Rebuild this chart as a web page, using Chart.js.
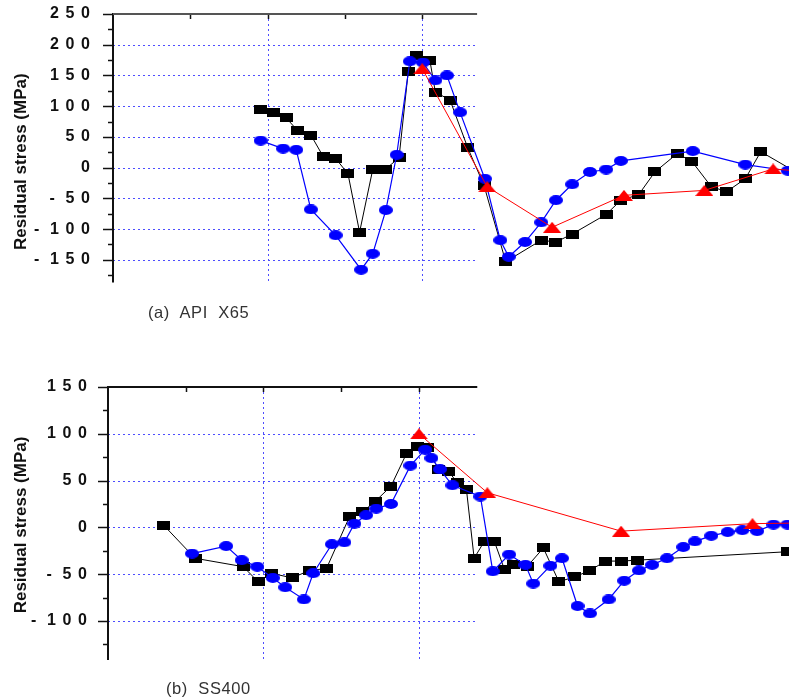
<!DOCTYPE html>
<html>
<head>
<meta charset="utf-8">
<script src="https://cdn.jsdelivr.net/npm/chart.js@4.4.0/dist/chart.umd.min.js"></script>
<style>
  html, body { margin: 0; padding: 0; background: #fff; }
  body { width: 789px; height: 698px; position: relative; overflow: hidden; }
  .panel { position: absolute; left: 0; width: 789px; }
  .caption { position: absolute; font: 16.5px "Liberation Sans", Arial, sans-serif; color: #333; letter-spacing: 0.6px; white-space: pre; line-height: 18px; }
</style>
</head>
<body>
<div class="panel" style="top:-10px;height:332px"><canvas id="chart-x65" width="789" height="332"></canvas></div>
<div class="caption" style="left:148px;top:303px">(a)  API  X65</div>
<div class="panel" style="top:340px;height:358px"><canvas id="chart-ss400" width="789" height="358"></canvas></div>
<div class="caption" style="left:166px;top:679px">(b)  SS400</div>

<script>
// (a) API X65 - distance vs residual stress
const x65SquareX = [19.1, 20.7, 22.4, 23.9, 25.6, 27.2, 28.8, 30.4, 31.9, 33.6, 35.2, 37.0, 38.2, 39.2, 41.0, 41.7, 43.6, 45.9, 48.0, 50.8, 55.4, 57.3, 59.4, 63.8, 65.7, 68.0, 70.1, 73.0, 74.9, 77.4, 79.4, 81.8, 83.8, 89.0];
const x65SquareY = [94, 89, 81, 60, 53, 18, 15, -10, -105, -3, -3, 16, 157, 182, 174, 123, 110, 32, -29, -153, -118, -121, -108, -76, -53, -44, -7, 23, 10, -31, -39, -18, 26, -12];
const x65CircleX = [19.1, 22.0, 23.7, 25.6, 28.8, 32.1, 33.6, 35.3, 36.7, 38.4, 40.1, 41.7, 43.2, 44.9, 48.1, 50.1, 51.2, 53.3, 55.4, 57.3, 59.4, 61.7, 63.8, 65.7, 75.0, 81.8, 87.3];
const x65CircleY = [44, 31, 29, -68, -110, -166, -140, -69, 21, 173, 171, 142, 150, 90, -18, -118, -145, -121, -89, -53, -27, -7, -3, 11, 27, 5, -5];
const x65TriangleX = [40.0, 48.4, 56.8, 66.1, 76.5, 85.4, 90.0];
const x65TriangleY = [161, -31, -97, -45, -37, -2, -7];

// (b) SS400
const ssSquareX = [7.2, 11.2, 17.4, 19.3, 21.0, 23.7, 25.9, 28.1, 31.1, 32.8, 34.4, 36.4, 38.4, 39.8, 41.1, 42.5, 43.8, 44.9, 46.1, 47.1, 48.4, 49.7, 51.0, 52.1, 53.9, 56.0, 58.0, 60.0, 62.0, 64.0, 66.0, 68.1, 87.4];
const ssSquareY = [2, -33, -42, -58, -49, -54, -46, -44, 12, 17, 28, 44, 79, 86, 85, 62, 60, 48, 41, -33, -15, -15, -45, -40, -42, -22, -58, -53, -46, -36, -36, -35, -26];
const ssCircleX = [10.8, 15.2, 17.2, 19.2, 21.2, 22.8, 25.2, 26.4, 28.8, 30.4, 31.7, 33.2, 34.5, 36.4, 38.9, 40.8, 41.6, 42.7, 44.3, 47.9, 49.5, 51.6, 53.7, 54.7, 56.9, 58.4, 60.4, 62.0, 64.4, 66.4, 68.3, 70.0, 71.9, 74.0, 75.5, 77.6, 79.7, 81.6, 83.5, 85.6, 87.4];
const ssCircleY = [-28, -20, -35, -42, -54, -64, -77, -49, -18, -16, 4, 13, 20, 25, 66, 83, 74, 62, 45, 33, -47, -29, -40, -60, -41, -33, -84, -92, -77, -57, -46, -40, -33, -21, -15, -9, -5, -3, -4, 3, 3];
const ssTriangleX = [40.0, 48.8, 66.0, 82.9, 92.0];
const ssTriangleY = [100, 37, -4, 4, 5];

// axis ticks
const x65Ticks = [-150, -100, -50, 0, 50, 100, 150, 200, 250];
const x65Minor = [-175, -125, -75, -25, 25, 75, 125, 175, 225];
const x65Grid = [-150, -100, -50, 0, 50, 100, 150, 200];
const ssTicks = [-100, -50, 0, 50, 100, 150];
const ssMinor = [-125, -75, -25, 25, 75, 125];
const ssGrid = [-100, -50, 0, 50, 100];
const topTicks = [10, 20, 30, 40];
const xGridLines = [20, 40];

function marker(w, h, color, shape) {
  const c = document.createElement('canvas');
  c.width = w;
  c.height = h;
  const g = c.getContext('2d');
  g.fillStyle = color;
  g.beginPath();
  if (shape === 'rect') {
    g.rect(0, 0, w, h);
  } else if (shape === 'ellipse') {
    g.ellipse(w / 2, h / 2, w / 2, h / 2, 0, 0, Math.PI * 2);
  } else {
    g.moveTo(w / 2, 0);
    g.lineTo(w, h);
    g.lineTo(0, h);
    g.closePath();
  }
  g.fill();
  return c;
}

const squareImg = marker(13, 9, '#000000', 'rect');
const circleImg = marker(14, 10, '#0000ff', 'ellipse');
const triangleImg = marker(18, 11, '#ff0000', 'triangle');

function pts(xs, ys) {
  return xs.map((x, i) => ({ x: x, y: ys[i] }));
}

// digits spread out like the original axis labels
function spaced(v) {
  const s = String(Math.abs(v)).split('').join('\u2004\u200a');
  return v < 0 ? '-\u2004\u2004' + s : s;
}

// dotted grid, axis lines and tick marks, limited to the left part of the frame
const framePlugin = {
  id: 'frame',
  beforeDatasetsDraw(chart, args, opts) {
    const ctx = chart.ctx;
    const xs = chart.scales.x;
    const ys = chart.scales.y;
    const left = chart.chartArea.left;
    const top = chart.chartArea.top;
    const right = xs.getPixelForValue(opts.xEnd);
    const bottom = ys.getPixelForValue(opts.yEnd);
    const seg = (x1, y1, x2, y2) => {
      ctx.beginPath();
      ctx.moveTo(x1, y1);
      ctx.lineTo(x2, y2);
      ctx.stroke();
    };
    ctx.save();
    ctx.strokeStyle = '#4d4dff';
    ctx.lineWidth = 1;
    ctx.setLineDash([2, 3]);
    opts.yGrid.forEach(v => {
      const py = Math.round(ys.getPixelForValue(v)) + 0.5;
      seg(left, py, right, py);
    });
    opts.xGrid.forEach(v => {
      const px = Math.round(xs.getPixelForValue(v)) + 0.5;
      seg(px, top, px, bottom);
    });
    ctx.setLineDash([]);
    ctx.strokeStyle = '#111';
    ctx.lineWidth = 1.5;
    opts.yMajor.forEach(v => {
      const py = Math.round(ys.getPixelForValue(v)) + 0.5;
      seg(left - 10, py, left, py);
    });
    opts.yMinor.forEach(v => {
      const py = Math.round(ys.getPixelForValue(v)) + 0.5;
      seg(left - 5, py, left, py);
    });
    opts.xTop.forEach(v => {
      const px = Math.round(xs.getPixelForValue(v)) + 0.5;
      seg(px, top, px, top + 5);
    });
    ctx.lineWidth = 2;
    seg(left, top - 1, left, bottom);
    ctx.strokeStyle = opts.topColor;
    seg(left, top, right, top);
    ctx.restore();
  }
};

function buildChart(id, cfg) {
  const ctx = document.getElementById(id).getContext('2d');
  return new Chart(ctx, {
    type: 'line',
    data: {
      datasets: [
        { data: pts(cfg.triX, cfg.triY), borderColor: '#ff0000', borderWidth: 1, pointStyle: triangleImg, pointRadius: 8 },
        { data: pts(cfg.cirX, cfg.cirY), borderColor: '#0000ff', borderWidth: 1.2, pointStyle: circleImg, pointRadius: 7 },
        { data: pts(cfg.sqX, cfg.sqY), borderColor: '#000000', borderWidth: 1, pointStyle: squareImg, pointRadius: 7 }
      ]
    },
    options: {
      responsive: false,
      animation: false,
      devicePixelRatio: 1,
      layout: { autoPadding: false, padding: { left: 0, right: 0, top: cfg.padTop, bottom: cfg.padBottom } },
      elements: { line: { tension: 0, fill: false } },
      plugins: {
        legend: { display: false },
        tooltip: { enabled: false },
        frame: cfg.frame
      },
      scales: {
        x: {
          type: 'linear',
          display: false,
          min: 0,
          max: cfg.xMax,
          ticks: { display: false }
        },
        y: {
          min: cfg.yMin,
          max: cfg.yMax,
          afterFit: s => { s.width = cfg.axisLeft; },
          afterBuildTicks: s => { s.ticks = cfg.ticks.map(v => ({ value: v })); },
          grid: { display: true, drawOnChartArea: false, drawTicks: true, tickLength: cfg.tickPad - 3, color: 'rgba(0,0,0,0)' },
          border: { display: false },
          ticks: {
            padding: 3,
            color: '#111',
            font: { family: '"Liberation Sans", Arial, sans-serif', size: 16, weight: 'bold' },
            callback: v => spaced(v)
          },
          title: {
            display: true,
            text: 'Residual stress (MPa)',
            color: '#111',
            padding: { top: 11, bottom: 0 },
            font: { family: '"Liberation Sans", Arial, sans-serif', size: 17, weight: 'bold' }
          }
        }
      }
    },
    plugins: [framePlugin]
  });
}

buildChart('chart-x65', {
  sqX: x65SquareX, sqY: x65SquareY,
  cirX: x65CircleX, cirY: x65CircleY,
  triX: x65TriangleX, triY: x65TriangleY,
  ticks: x65Ticks,
  yMin: -230.6, yMax: 250, xMax: 87.45,
  axisLeft: 113, tickPad: 23, padTop: 24, padBottom: 10,
  frame: { xEnd: 47.1, yEnd: -187, yGrid: x65Grid, xGrid: xGridLines, yMajor: x65Ticks, yMinor: x65Minor, xTop: topTicks, topColor: '#555' }
});

buildChart('chart-ss400', {
  sqX: ssSquareX, sqY: ssSquareY,
  cirX: ssCircleX, cirY: ssCircleY,
  triX: ssTriangleX, triY: ssTriangleY,
  ticks: ssTicks,
  yMin: -144.9, yMax: 150, xMax: 87.6,
  axisLeft: 108, tickPad: 21, padTop: 47, padBottom: 35,
  frame: { xEnd: 47.5, yEnd: -141.7, yGrid: ssGrid, xGrid: xGridLines, yMajor: ssTicks, yMinor: ssMinor, xTop: topTicks, topColor: '#111' }
});
</script>
</body>
</html>
